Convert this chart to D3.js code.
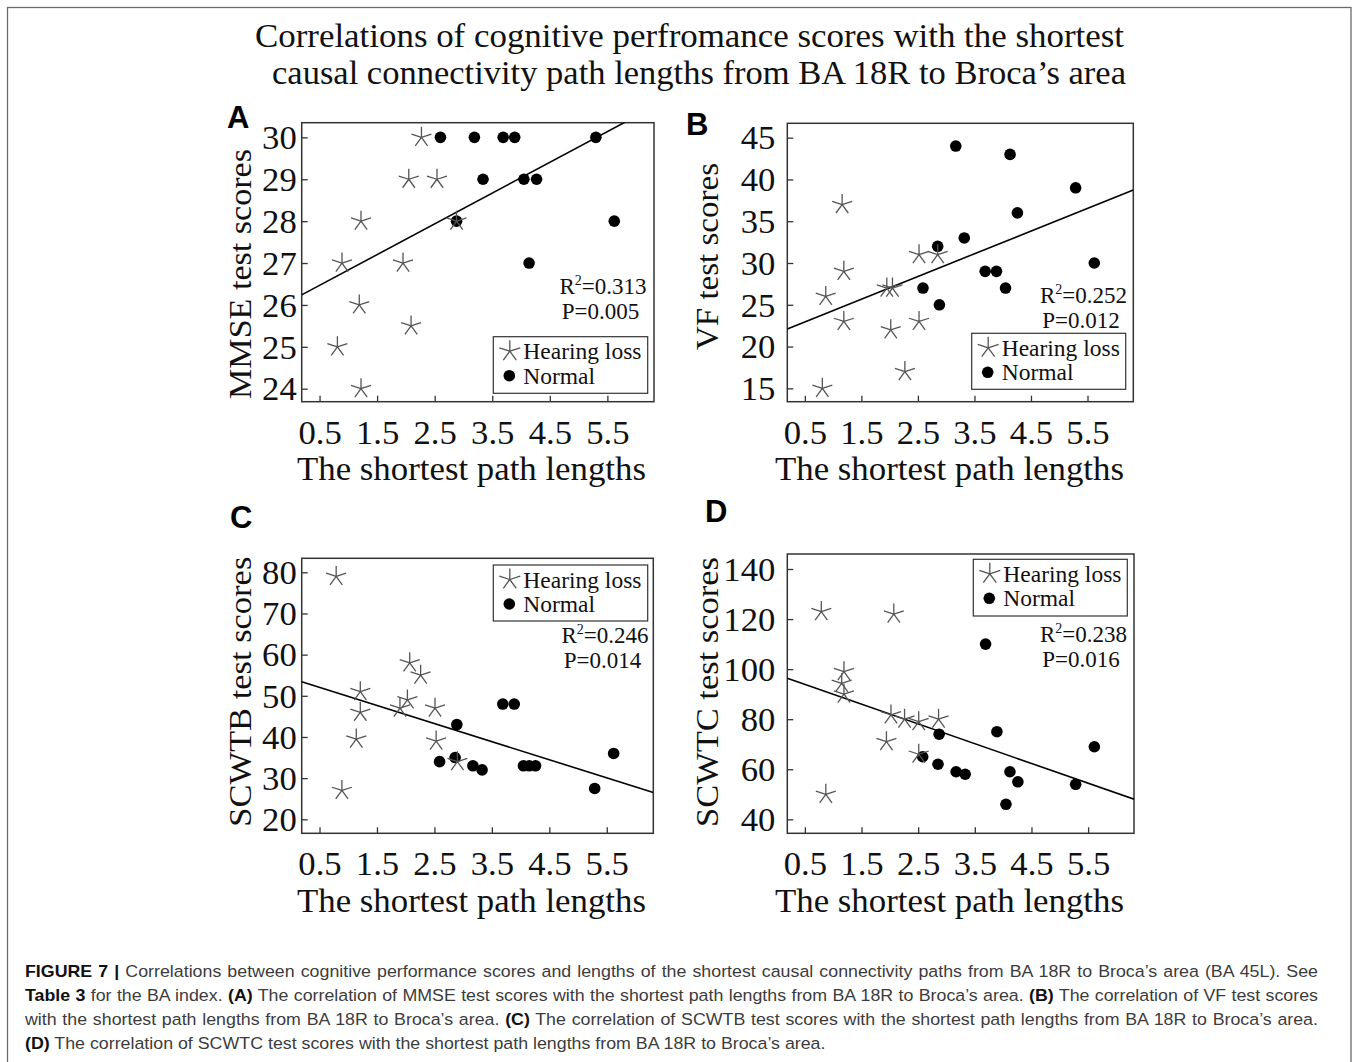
<!DOCTYPE html>
<html>
<head>
<meta charset="utf-8">
<script src="https://cdn.jsdelivr.net/npm/d3@7"></script>
<style>
  body { margin: 0; background: #fff; }
  svg { display: block; }
</style>
</head>
<body>
<svg id="fig" width="1357" height="1062"></svg>
<script>
// ---- data ----
var xTicks = [0.5, 1.5, 2.5, 3.5, 4.5, 5.5];
var xDomain = [0.19, 6.31];

var mmseTicks = [24, 25, 26, 27, 28, 29, 30];
var vfTicks = [15, 20, 25, 30, 35, 40, 45];
var scwtbTicks = [20, 30, 40, 50, 60, 70, 80];
var scwtcTicks = [40, 60, 80, 100, 120, 140];

var mmseHearX = [2.27, 2.05, 2.54, 1.22, 2.88, 0.89, 1.95, 1.19, 2.09, 0.81, 1.22];
var mmseHearY = [30, 29, 29, 28, 28, 27, 27, 26, 25.5, 25, 24];
var mmseNormX = [2.60, 3.19, 3.69, 3.89, 5.30, 3.34, 4.05, 4.27, 2.88, 5.62, 4.14];
var mmseNormY = [30, 30, 30, 30, 30, 29, 29, 29, 28, 28, 27];

var vfHearX = [0.81, 1.16, 1.19, 0.87, 1.19, 1.95, 2.05, 2.02, 2.52, 2.85, 2.52, 2.27];
var vfHearY = [15, 37, 29, 26, 23, 27, 27, 22, 31, 31, 23, 17];
var vfNormX = [3.17, 4.13, 5.29, 4.26, 3.32, 2.85, 5.62, 3.69, 3.89, 4.05, 2.59, 2.88];
var vfNormY = [44, 43, 39, 36, 33, 32, 30, 29, 29, 27, 27, 25];

var scwtbHearX = [0.79, 0.89, 1.21, 1.21, 1.14, 2.07, 2.26, 2.03, 1.90, 2.51, 2.53, 2.90];
var scwtbHearY = [79, 27, 51, 46, 39.5, 58, 55, 49, 47, 47, 39, 34];
var scwtbNormX = [3.69, 3.89, 2.89, 2.86, 2.59, 3.17, 3.33, 4.05, 4.15, 4.26, 5.29, 5.62];
var scwtbNormY = [48, 48, 43, 35, 34, 33, 32, 33, 33, 33, 27.5, 36];

var scwtcHearX = [0.79, 0.87, 2.07, 1.19, 1.15, 1.19, 2.02, 2.26, 2.51, 2.86, 1.94, 2.51];
var scwtcHearY = [123, 50, 122, 99, 94.3, 90, 81.7, 80, 79, 80, 71, 66];
var scwtcNormX = [3.69, 3.89, 2.87, 5.61, 2.58, 2.85, 3.17, 3.33, 4.12, 4.26, 4.05, 5.28];
var scwtcNormY = [110, 75, 74, 69, 65, 62, 59, 58, 59, 55, 46, 54];

// regression lines: [intercept, slope]
var fitLines = [[26.10, 0.734], [21.59, 2.718], [54.25, -4.396], [97.83, -7.89]];
var r2Labels = ["0.313", "0.252", "0.246", "0.238"];
var pLabels = ["0.005", "0.012", "0.014", "0.016"];
var yTitles = ["MMSE test scores", "VF test scores", "SCWTB test scores", "SCWTC test scores"];
var panelLetters = ["A", "B", "C", "D"];
var legendLabels = ["Hearing loss", "Normal"];
var xTitle = "The shortest path lengths";
var titleLines = ["Correlations of cognitive perfromance scores with the shortest",
                  "causal connectivity path lengths from BA 18R to Broca\u2019s area"];

// ---- layout ----
var SERIF = "'Liberation Serif', 'Times New Roman', serif";
var SANS = "'Liberation Sans', Arial, sans-serif";
var STRETCH = 1.05;

var panels = [
  { x: 301.7, y: 122.7, w: 352.3, h: 279, yDomain: [23.69, 30.35], ticks: mmseTicks,
    hx: mmseHearX, hy: mmseHearY, nx: mmseNormX, ny: mmseNormY,
    gap: 5, tX: 251, tY: 274, tLen: 250, lx: 227, ly: 128,
    leg: [493.3, 336.7, 154.4, 56.6], st: [603, 294], xt: 297 },
  { x: 787.3, y: 123.3, w: 346, h: 278.4, yDomain: [13.40, 46.72], ticks: vfTicks,
    hx: vfHearX, hy: vfHearY, nx: vfNormX, ny: vfNormY,
    gap: 12, tX: 718, tY: 256.5, tLen: 187, lx: 686, ly: 135,
    leg: [971.7, 333.3, 154, 56], st: [1083.5, 303], xt: 775 },
  { x: 301.7, y: 558.3, w: 351.6, h: 275, yDomain: [16.60, 83.40], ticks: scwtbTicks,
    hx: scwtbHearX, hy: scwtbHearY, nx: scwtbNormX, ny: scwtbNormY,
    gap: 5, tX: 251, tY: 691.7, tLen: 270, lx: 230, ly: 528,
    leg: [493.3, 565, 154.4, 56], st: [605, 643], xt: 297 },
  { x: 787.3, y: 554, w: 346.7, h: 279.3, yDomain: [34.42, 145.99], ticks: scwtcTicks,
    hx: scwtcHearX, hy: scwtcHearY, nx: scwtcNormX, ny: scwtcNormY,
    gap: 12, tX: 718, tY: 692, tLen: 270, lx: 705, ly: 522,
    leg: [973.3, 559.3, 154, 56.7], st: [1083.5, 642.3], xt: 775 }
];

var svg = d3.select("#fig");

// outer frame
svg.append("rect").attr("x", 7.5).attr("y", 7.5).attr("width", 1343.5).attr("height", 1100)
    .attr("fill", "none").attr("stroke", "#6b6b6b").attr("stroke-width", 1.3);

// title
var titleX = [255, 272], titleW = [869, 854], titleY = [47, 84];
titleLines.forEach(function(t, i) {
  svg.append("text").attr("x", titleX[i]).attr("y", titleY[i])
      .attr("font-family", SERIF).attr("font-size", 33).attr("fill", "#111")
      .attr("textLength", titleW[i]).attr("lengthAdjust", "spacingAndGlyphs")
      .text(t);
});

function starPath(r) {
  var p = "";
  for (var k = 0; k < 5; k++) {
    var a = -Math.PI / 2 + k * 2 * Math.PI / 5;
    p += "M0,0L" + (r * Math.cos(a)).toFixed(2) + "," + (r * Math.sin(a)).toFixed(2);
  }
  return p;
}

panels.forEach(function(P, i) {
  var x = d3.scaleLinear().domain(xDomain).range([P.x, P.x + P.w]);
  var y = d3.scaleLinear().domain(P.yDomain).range([P.y + P.h, P.y]);

  var clipId = "clip" + i;
  svg.append("clipPath").attr("id", clipId).append("rect")
      .attr("x", P.x).attr("y", P.y).attr("width", P.w).attr("height", P.h);

  // x axis (ticks pointing inward)
  var gx = svg.append("g").attr("transform", "translate(0," + (P.y + P.h) + ")")
      .call(d3.axisBottom(x).tickValues(xTicks).tickSize(-6).tickFormat(d3.format(".1f")));
  gx.select(".domain").remove();
  gx.selectAll(".tick line").attr("stroke", "#333").attr("stroke-width", 1.3);
  gx.selectAll(".tick text").attr("x", 0).attr("y", 0).attr("dy", null)
      .attr("transform", "translate(0,42) scale(" + STRETCH + ",1)")
      .attr("font-family", SERIF).attr("font-size", 33).attr("fill", "#111");

  // y axis
  var gy = svg.append("g").attr("transform", "translate(" + P.x + ",0)")
      .call(d3.axisLeft(y).tickValues(P.ticks).tickSize(-6).tickFormat(d3.format("d")));
  gy.select(".domain").remove();
  gy.selectAll(".tick line").attr("stroke", "#333").attr("stroke-width", 1.3);
  gy.selectAll(".tick text").attr("x", 0).attr("dy", "0.34em")
      .attr("transform", "translate(" + (-P.gap) + ",0) scale(" + STRETCH + ",1)")
      .attr("text-anchor", "end")
      .attr("font-family", SERIF).attr("font-size", 33).attr("fill", "#111");

  // plot frame
  svg.append("rect").attr("x", P.x).attr("y", P.y).attr("width", P.w).attr("height", P.h)
      .attr("fill", "none").attr("stroke", "#333").attr("stroke-width", 1.5);

  // regression line
  var fit = fitLines[i];
  svg.append("line").attr("clip-path", "url(#" + clipId + ")")
      .attr("x1", x(xDomain[0])).attr("y1", y(fit[0] + fit[1] * xDomain[0]))
      .attr("x2", x(xDomain[1])).attr("y2", y(fit[0] + fit[1] * xDomain[1]))
      .attr("stroke", "#000").attr("stroke-width", 1.6);

  // normal (dots)
  svg.append("g").selectAll("circle").data(d3.range(P.nx.length)).enter().append("circle")
      .attr("cx", function(k) { return x(P.nx[k]); })
      .attr("cy", function(k) { return y(P.ny[k]); })
      .attr("r", 5.8).attr("fill", "#000");

  // hearing loss (stars)
  svg.append("g").selectAll("path").data(d3.range(P.hx.length)).enter().append("path")
      .attr("d", starPath(10.5))
      .attr("transform", function(k) { return "translate(" + x(P.hx[k]) + "," + y(P.hy[k]) + ")"; })
      .attr("fill", "none").attr("stroke", "#555").attr("stroke-width", 1.3);

  // legend
  var L = P.leg;
  var lg = svg.append("g");
  lg.append("rect").attr("x", L[0]).attr("y", L[1]).attr("width", L[2]).attr("height", L[3])
      .attr("fill", "#fff").attr("stroke", "#333").attr("stroke-width", 1.2);
  lg.append("path").attr("d", starPath(11))
      .attr("transform", "translate(" + (L[0] + 16.5) + "," + (L[1] + 14.5) + ")")
      .attr("fill", "none").attr("stroke", "#555").attr("stroke-width", 1.3);
  lg.append("circle").attr("cx", L[0] + 16).attr("cy", L[1] + 39).attr("r", 5.8).attr("fill", "#000");
  legendLabels.forEach(function(t, j) {
    lg.append("text").attr("x", L[0] + 30).attr("y", L[1] + 14.5 + j * 24.5 + 8)
        .attr("font-family", SERIF).attr("font-size", 23.5).attr("fill", "#111").text(t);
  });

  // statistics
  var s1 = svg.append("text").attr("x", P.st[0]).attr("y", P.st[1]).attr("text-anchor", "middle")
      .attr("font-family", SERIF).attr("font-size", 23).attr("fill", "#111");
  s1.append("tspan").text("R");
  s1.append("tspan").attr("font-size", 14).attr("dy", -9).text("2");
  s1.append("tspan").attr("dy", 9).text("=" + r2Labels[i]);
  svg.append("text").attr("x", P.st[0] - 2.5).attr("y", P.st[1] + 24.5).attr("text-anchor", "middle")
      .attr("font-family", SERIF).attr("font-size", 23).attr("fill", "#111")
      .text("P=" + pLabels[i]);

  // axis titles
  svg.append("text").attr("x", P.xt).attr("y", P.y + P.h + 78.3)
      .attr("font-family", SERIF).attr("font-size", 34).attr("fill", "#111")
      .attr("textLength", 349).attr("lengthAdjust", "spacingAndGlyphs")
      .text(xTitle);
  svg.append("text").attr("transform", "translate(" + P.tX + "," + P.tY + ") rotate(-90)")
      .attr("text-anchor", "middle")
      .attr("font-family", SERIF).attr("font-size", 31).attr("fill", "#111")
      .attr("textLength", P.tLen).attr("lengthAdjust", "spacingAndGlyphs")
      .text(yTitles[i]);

  // panel letter
  svg.append("text").attr("x", P.lx).attr("y", P.ly)
      .attr("font-family", SANS).attr("font-weight", "bold").attr("font-size", 31).attr("fill", "#000")
      .text(panelLetters[i]);
});

// ---- caption ----
var CAP = "'Liberation Sans', Arial, sans-serif";
var captionLines = [
  [["FIGURE 7 | ", true], ["Correlations between cognitive performance scores and lengths of the shortest causal connectivity paths from BA 18R to Broca\u2019s area (BA 45L). See", false]],
  [["Table 3", true], [" for the BA index. ", false], ["(A)", true], [" The correlation of MMSE test scores with the shortest path lengths from BA 18R to Broca\u2019s area. ", false], ["(B)", true], [" The correlation of VF test scores", false]],
  [["with the shortest path lengths from BA 18R to Broca\u2019s area. ", false], ["(C)", true], [" The correlation of SCWTB test scores with the shortest path lengths from BA 18R to Broca\u2019s area.", false]],
  [["(D)", true], [" The correlation of SCWTC test scores with the shortest path lengths from BA 18R to Broca\u2019s area.", false]]
];
var capY = [977.5, 1001.2, 1025, 1048.6];
var capX = 25, capW = 1293;

var capG = svg.append("g");
var capTexts = captionLines.map(function(line, i) {
  var t = capG.append("text").attr("x", 0).attr("y", capY[i])
      .attr("font-family", CAP).attr("font-size", 16.5).attr("fill", "#3c3c3c");
  line.forEach(function(part) {
    var ts = t.append("tspan").text(part[0]);
    if (part[1]) ts.attr("font-weight", "bold").attr("fill", "#111");
  });
  return t;
});
// widen the glyphs so the longest justified line just fits, then justify lines 1-3
var capStretch = Math.min(1.14, d3.min(capTexts.slice(0, 3), function(t) {
  return (capW - 12) / t.node().getComputedTextLength();
}));
capG.attr("transform", "translate(" + capX + ",0) scale(" + capStretch + ",1)");
capTexts.forEach(function(t, i) {
  if (i < 3) {
    var natural = t.node().getComputedTextLength();
    var full = captionLines[i].map(function(p) { return p[0]; }).join("");
    var spaces = full.split(" ").length - 1;
    t.attr("word-spacing", ((capW / capStretch - natural) / spaces).toFixed(3));
  }
});
</script>
</body>
</html>
